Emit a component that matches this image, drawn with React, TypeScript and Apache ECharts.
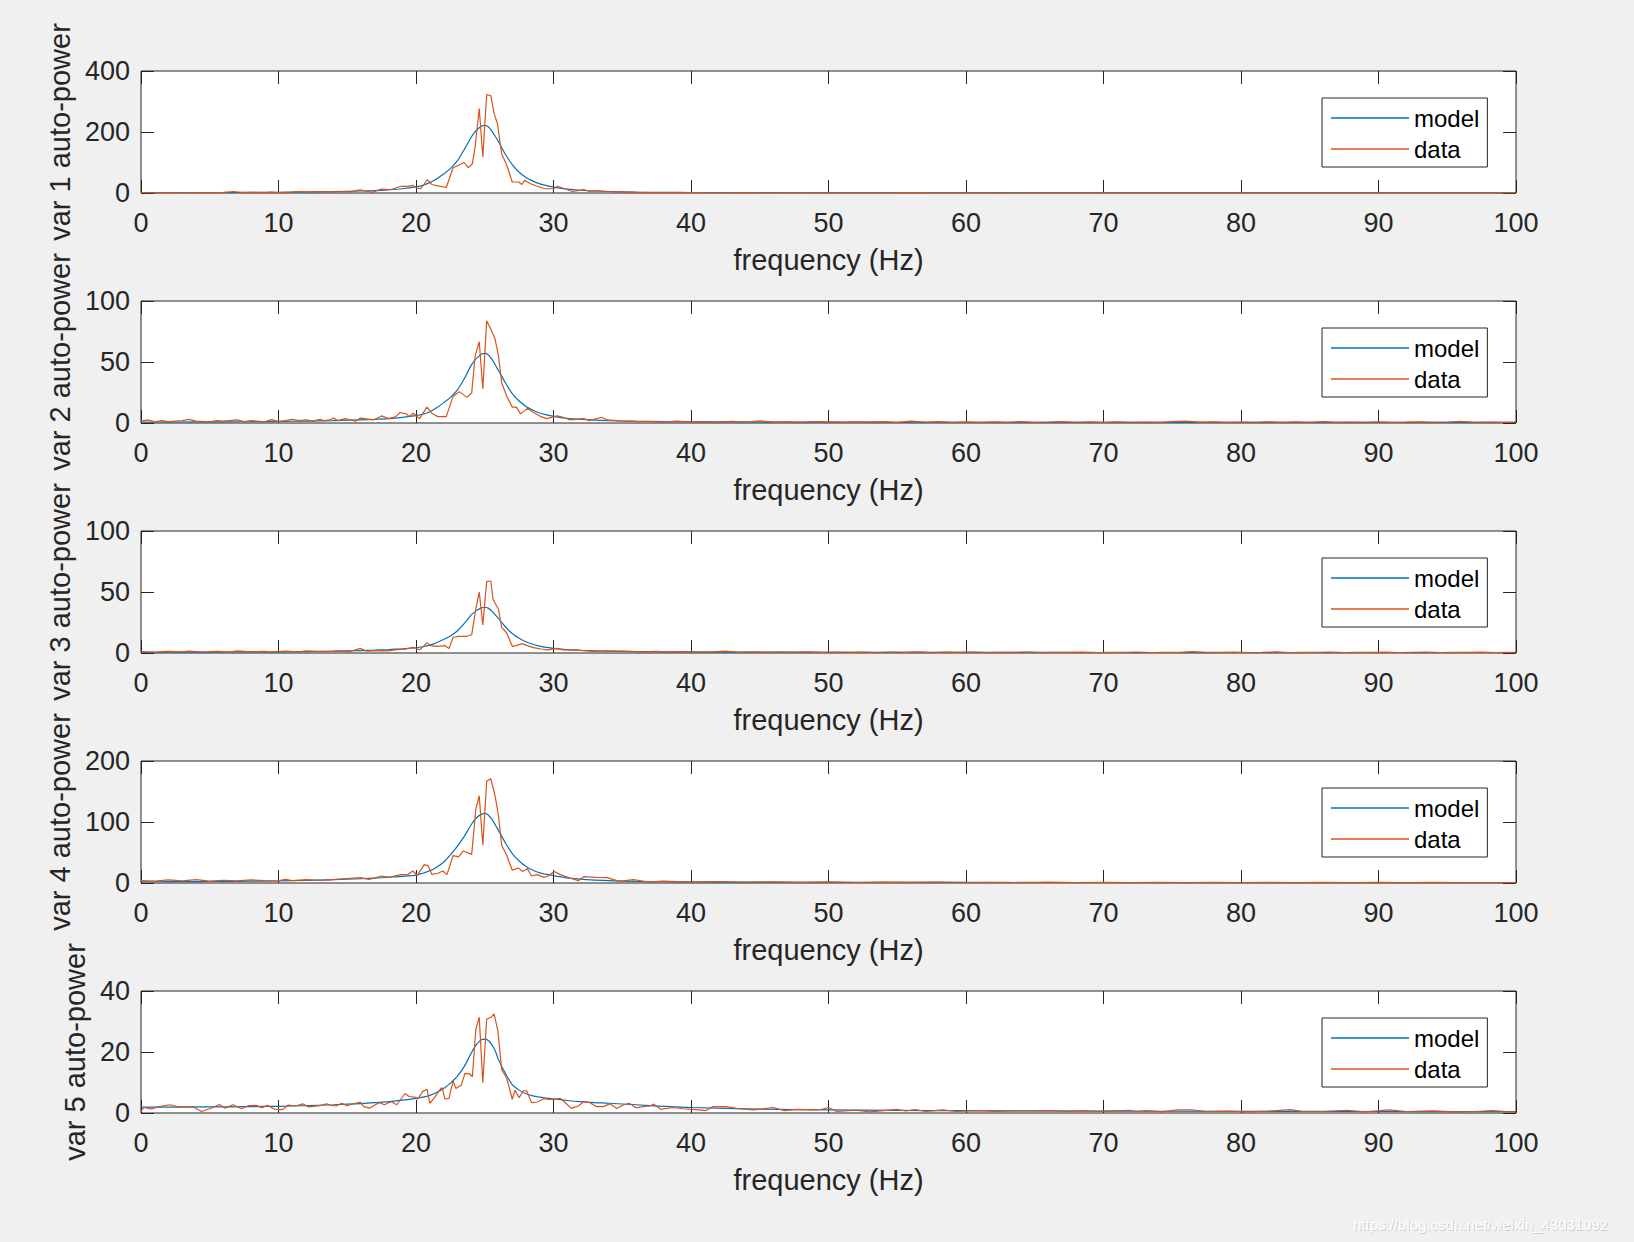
import React, { useEffect, useRef } from 'react';
import * as echarts from 'echarts';

// ---------- data ----------
const modelFreq = [0, 2, 4, 6, 8, 10, 12, 14, 16, 17, 18, 19, 20, 20.5, 21, 21.5, 22, 22.5, 23, 23.5, 24, 24.25, 24.5, 24.75, 25, 25.25, 25.5, 25.75, 26, 26.5, 27, 27.5, 28, 28.5, 29, 29.5, 30, 31, 32, 33, 34, 36, 38, 40, 45, 50, 55, 60, 70, 80, 90, 100];

const model1 = [0.8, 1.0, 1.2, 1.5, 1.9, 2.4, 3.2, 4.5, 6.5, 8, 10.5, 14, 20, 25, 34, 46, 62, 80, 105, 142, 182, 198, 210, 219, 222, 217, 204, 187, 168, 127, 93, 68, 51, 39, 30, 24, 19.5, 13, 9, 6.5, 5, 3, 2.2, 1.7, 1, 0.7, 0.5, 0.4, 0.3, 0.3, 0.2, 0.2];
const model2 = [0.8, 0.8, 0.9, 1.0, 1.1, 1.3, 1.6, 2.0, 2.6, 3.0, 3.6, 4.6, 6.0, 7.2, 9.2, 12.5, 16.5, 21, 27, 36, 47, 51, 54, 56.3, 57, 56, 52.5, 48, 43, 33, 24, 18, 13.5, 10.5, 8.2, 6.6, 5.4, 3.8, 2.9, 2.3, 1.9, 1.4, 1.2, 1.0, 0.8, 0.7, 0.6, 0.6, 0.5, 0.5, 0.5, 0.5];
const model3 = [0.6, 0.6, 0.7, 0.8, 0.9, 1.0, 1.2, 1.5, 2.0, 2.3, 2.8, 3.5, 4.3, 5.1, 6.4, 8.4, 11, 14, 18, 24, 31, 33.5, 35.5, 37, 37.5, 36.8, 34.5, 31.5, 28.3, 21.5, 16, 12, 9.2, 7.2, 5.7, 4.6, 3.8, 2.8, 2.2, 1.8, 1.5, 1.2, 1.0, 0.9, 0.7, 0.6, 0.5, 0.5, 0.4, 0.4, 0.4, 0.4];
const model4 = [2, 2.1, 2.3, 2.6, 3.0, 3.5, 4.3, 5.5, 7.0, 8.0, 9.5, 11.0, 13, 16, 20, 26, 34, 46, 60, 76, 95, 103, 109, 112.5, 114, 111.5, 105, 96, 86, 66, 48, 36, 27, 21, 16.5, 14, 12, 8.5, 6.2, 4.8, 3.8, 2.7, 2.1, 1.8, 1.3, 1.1, 1.0, 0.9, 0.8, 0.7, 0.7, 0.7];
const model5 = [1.9, 1.9, 2.0, 2.0, 2.1, 2.2, 2.4, 2.7, 3.1, 3.4, 3.7, 4.2, 4.8, 5.2, 5.8, 6.7, 8.0, 9.8, 12.0, 15.2, 19.5, 21.5, 23, 24, 24.2, 23.8, 22.5, 20.5, 17.5, 13, 9.3, 7.5, 6.3, 5.6, 5.2, 4.9, 4.6, 4.1, 3.7, 3.4, 3.2, 2.7, 2.2, 1.8, 1.3, 1.0, 0.85, 0.75, 0.6, 0.55, 0.5, 0.45];

const data1: [number, number][] = [
  [0, 1], [1, 0.5], [2, 1], [3, 0.8], [4, 1.5], [5, 1], [6, 2], [6.7, 5], [7.3, 2], [8, 2.5], [9, 1.5], [9.4, 3], [10, 1.5], [11, 3], [11.3, 5], [12, 4], [13, 5],
  [13.8, 3], [14.5, 5], [15.2, 4], [15.9, 10], [16.4, 6], [16.8, 2], [17.5, 13], [18, 11], [18.3, 13], [18.9, 22], [19.4, 22], [19.8, 25], [20.05, 16], [20.35, 14],
  [20.83, 44], [21.15, 28], [21.5, 24], [22.2, 18], [22.7, 83], [23.1, 91], [23.5, 100], [23.8, 83], [24.1, 96], [24.3, 151], [24.6, 277], [24.86, 118],
  [25.14, 323], [25.44, 319], [25.68, 261], [25.92, 228], [26.23, 129], [26.6, 91], [27.0, 36], [27.45, 36], [27.7, 28], [27.9, 42], [28.3, 31], [28.8, 22],
  [29.4, 14], [30, 14], [30.3, 22], [30.8, 14], [31.4, 5], [32.2, 11], [32.65, 5], [33.1, 8], [33.9, 5], [35.1, 3], [36, 2], [37, 1],
  [38, 1.5], [40, 1], [42, 0.8], [44, 1.2], [46, 0.6], [48, 0.9], [50, 0.5], [52, 0.8], [54, 0.6], [56, 1], [58, 0.5], [60, 0.7], [62, 0.4], [64, 0.8],
  [66, 0.5], [68, 0.6], [70, 0.4], [72, 0.7], [74, 0.5], [76, 0.8], [78, 0.4], [80, 0.6], [82, 0.5], [84, 0.7], [86, 0.4], [88, 0.6], [90, 0.5], [92, 0.4],
  [94, 0.6], [96, 0.5], [98, 0.4], [100, 0.5]
];

const data2: [number, number][] = [
  [0, 1.5], [0.5, 2.5], [1, 1], [1.5, 2], [2, 1.2], [3, 2], [3.5, 3], [4, 1.5], [5, 1], [5.5, 2], [6, 1.5], [7, 2.5], [7.5, 1.2], [8, 2], [9, 1], [9.5, 2.8],
  [10, 1.2], [10.5, 2], [11, 3], [11.5, 2], [12, 2.5], [12.5, 1.5], [13, 3], [13.3, 2],
  [13.76, 2.5], [14.0, 4], [14.3, 2], [14.85, 3.6], [15.6, 1.4], [15.95, 4], [16.9, 2.5], [17.5, 5.8], [18, 3.6], [18.5, 5], [18.85, 8.6], [19.3, 7.5],
  [19.5, 5.2], [19.8, 8], [20.25, 3.6], [20.8, 13], [21.15, 8], [21.6, 5.2], [22.2, 5.2], [22.7, 22], [23.15, 25.7], [23.7, 21], [24.05, 24.6], [24.3, 55],
  [24.6, 66.6], [24.86, 28], [25.14, 83.7], [25.44, 77], [25.75, 68.8], [26, 55], [26.23, 33], [26.6, 22], [27, 13], [27.3, 13], [27.6, 7.5], [28.1, 12],
  [28.55, 8.6], [29.1, 5.2], [29.5, 3.6], [30.25, 5.8], [30.7, 4.7], [31.2, 2.5], [32.2, 3.6], [32.6, 2], [33.5, 4.7], [33.9, 2.5], [34.8, 1.7], [36, 1.4],
  [37, 1.2], [38, 0.8], [39, 1.5], [40, 0.7], [41, 1.2], [42, 0.6], [43, 1.4], [44, 0.8], [45, 1.8], [46, 0.7], [47, 1], [48, 0.6], [49, 1.2], [50, 0.9],
  [51, 0.5], [52, 1], [53, 0.7], [54, 1.1], [55, 0.5], [56, 1.6], [57, 0.8], [58, 1.2], [59, 0.6], [60, 1], [61, 0.5], [62, 0.9], [63, 0.6], [64, 1.1],
  [65, 0.5], [66, 0.8], [67, 1.2], [68, 0.6], [69, 0.9], [70, 0.5], [71, 1], [72, 0.6], [73, 0.8], [74, 0.5], [75, 1.1], [76, 1.5], [77, 0.7], [78, 0.9],
  [79, 0.5], [80, 0.8], [81, 0.6], [82, 1], [83, 0.5], [84, 0.9], [85, 0.6], [86, 1.2], [87, 0.5], [88, 0.8], [89, 0.6], [90, 0.9], [91, 0.5], [92, 0.7],
  [93, 1], [94, 0.6], [95, 0.8], [96, 1.3], [97, 0.6], [98, 0.8], [99, 0.5], [100, 0.7]
];

const data3: [number, number][] = [
  [0, 1.2], [1, 0.8], [2, 1.4], [3, 0.9], [3.5, 1.6], [4.5, 0.8], [5.5, 1.3], [6.5, 0.9], [7, 1.7], [8, 1], [9, 1.4], [9.5, 0.8], [10.5, 1.5], [11.5, 1],
  [12, 1.8], [13, 1.2],
  [13.76, 1.4], [14.5, 1.6], [15.2, 1.2], [15.95, 3.8], [16.4, 1.5], [17.4, 2], [18, 1.8], [18.6, 2.7], [19.2, 3.2], [19.8, 4.6], [20.3, 2.7], [20.8, 8.5],
  [21.05, 6], [21.5, 5.5], [22.1, 6], [22.4, 3.6], [22.7, 12.9], [23.1, 13.7], [23.7, 13.7], [24.05, 15], [24.35, 36], [24.6, 50], [24.86, 23], [25.14, 58.5],
  [25.44, 59], [25.6, 44], [26, 35.6], [26.23, 21], [26.6, 16.4], [27, 5.5], [27.3, 6], [27.7, 7.7], [28.1, 6], [28.55, 4.4], [29.1, 3.3], [29.6, 2.5],
  [30.25, 3.8], [30.7, 2.5], [31.2, 2.7], [32.2, 2], [33, 1.4], [34, 1.8], [35.5, 1.4], [36.5, 1],
  [37.5, 1.3], [38.5, 0.7], [39.5, 1.1], [40.5, 0.6], [41.5, 0.9], [42.5, 1.5], [43.5, 0.6], [44.5, 0.9], [45.5, 0.5], [46.5, 0.8], [47.5, 0.6], [48.5, 1],
  [49.5, 0.5], [50.5, 0.8], [51.5, 0.5], [52.5, 0.7], [53.5, 0.4], [54.5, 0.8], [55.5, 0.5], [56.5, 0.9], [57.5, 0.4], [58.5, 0.7], [59.5, 0.5], [60.5, 0.8],
  [61.5, 0.4], [62.5, 0.6], [63.5, 0.5], [64.5, 0.8], [65.5, 0.4], [66.5, 0.6], [67.5, 0.5], [68.5, 0.7], [69.5, 0.4], [70.5, 0.6], [71.5, 0.5], [72.5, 0.8],
  [73.5, 0.4], [74.5, 0.6], [75.5, 0.5], [76.5, 1.1], [77.5, 0.6], [78.5, 0.5], [79.5, 0.7], [80.5, 0.4], [81.5, 0.6], [82.5, 0.9], [83.5, 0.4], [84.5, 0.6],
  [85.5, 0.5], [86.5, 0.8], [87.5, 0.4], [88.5, 0.6], [89.5, 0.5], [90.5, 0.7], [91.5, 0.4], [92.5, 0.6], [93.5, 0.8], [94.5, 0.4], [95.5, 0.6], [96.5, 0.5],
  [97.5, 0.7], [98.5, 0.4], [99.5, 0.6], [100, 0.5]
];

const data4: [number, number][] = [
  [0, 4], [1, 3], [2, 5], [3, 3.5], [4, 5.5], [5, 3], [6, 4.5], [7, 3.5], [8, 5], [9, 4], [10, 3.5], [10.5, 6], [11, 4], [12, 5.5], [13, 4.5],
  [13.76, 5], [14.7, 7], [15.95, 8.8], [16.6, 6], [17.5, 11.5], [18, 9.3], [18.9, 13.7], [19.4, 13.7], [19.76, 19.7], [20.1, 12.6], [20.6, 30], [20.9, 28],
  [21.15, 14], [21.6, 16], [21.95, 19.7], [22.25, 13.7], [22.7, 45], [23.1, 42.7], [23.45, 52.5], [24.05, 47], [24.35, 121], [24.6, 143], [24.86, 62],
  [25.14, 167], [25.44, 171], [25.75, 143], [26, 110], [26.23, 62], [26.6, 45], [27.0, 21], [27.45, 24.6], [27.75, 19], [28.1, 23.5], [28.4, 11.5],
  [28.8, 13.7], [29.3, 9.3], [29.6, 11.5], [30.05, 19], [30.5, 13.7], [31.2, 8.2], [31.8, 3.8], [32.2, 10.4], [33.1, 9.3], [33.9, 8.8], [34.8, 2.7],
  [35.8, 5.5], [36.5, 3.3], [37, 2],
  [38, 3], [40, 1.5], [42, 2.5], [44, 1.2], [46, 2], [48, 1], [50, 1.8], [52, 0.8], [54, 1.5], [56, 1], [58, 1.6], [60, 0.8], [62, 1.2], [64, 0.7],
  [66, 1.3], [68, 0.8], [70, 1.1], [72, 0.6], [74, 1.2], [76, 0.8], [78, 1], [80, 0.6], [82, 1.1], [84, 0.7], [86, 0.9], [88, 0.6], [90, 1], [92, 0.7],
  [94, 0.9], [96, 0.6], [98, 0.8], [100, 0.7]
];

const data5: [number, number][] = [
  [0, 0.5], [0.2, 1.8], [0.8, 1.3], [1.2, 2], [2.1, 2.7], [2.7, 2], [3.8, 2], [4.4, 0.5], [5, 1.4], [5.7, 2.8], [6.1, 1.6], [6.7, 2.7], [7.3, 1.4],
  [7.8, 2.4], [8.4, 2.5], [8.8, 1.7], [9.2, 2.5], [9.7, 1.3], [10.3, 1.1], [10.7, 2.6], [11.25, 2.3], [11.75, 3.0], [12.2, 2], [13, 2.4], [13.5, 3.0],
  [13.76, 2.6], [14.2, 2.3], [14.6, 3.2], [14.97, 2.4], [15.6, 3.2], [15.95, 3.6], [16.2, 2.1], [16.66, 1.6], [17, 2.6], [17.34, 3.4], [17.7, 2.7],
  [18.2, 3.7], [18.6, 2.7], [19.2, 6.4], [19.5, 5.4], [20, 5.1], [20.1, 4.5], [20.5, 7.1], [20.8, 7.8], [21, 3.2], [21.3, 4.8], [21.8, 8.0], [21.9, 8.3],
  [22.1, 4.6], [22.4, 4.8], [22.7, 10.6], [22.9, 8.0], [23.3, 9.2], [23.56, 13], [23.9, 12.8], [24.1, 11.9], [24.35, 27.4], [24.6, 31.4], [24.86, 9.9],
  [25.14, 30.8], [25.44, 31.3], [25.68, 32.5], [25.95, 27], [26.23, 14.3], [26.6, 11.4], [27, 4.5], [27.2, 7.5], [27.5, 5.0], [27.8, 7.3], [28.05, 7.3],
  [28.4, 3.4], [28.8, 3.6], [29.3, 4.7], [29.6, 4.5], [30.05, 4.5], [30.5, 4.8], [30.8, 3.6], [31.3, 1.5], [31.8, 2.3], [32.2, 3.7], [32.65, 3.4],
  [33.1, 2.1], [33.6, 2.1], [34.1, 3.0], [34.6, 1.5], [35.1, 2.7], [35.5, 3.2], [36, 1.7], [36.5, 2.1], [37, 2.3],
  [37.3, 2.9], [37.8, 1.2], [38.7, 1.8], [39.4, 1.4], [40.2, 1.2], [41.1, 0.8], [41.6, 2.1], [42.6, 2.1], [43.5, 1.4], [44.5, 1.0], [46, 1.8], [46.8, 0.8],
  [47.7, 1.2], [48.9, 1.0], [49.5, 1.2], [50, 1.8], [50.6, 0.5], [52, 0.9], [53, 0.4], [55, 1.2], [55.6, 0.65], [56.3, 1.1], [57.1, 0.5], [58.3, 1.0],
  [59.3, 0.5], [60.8, 0.76], [62.2, 0.55], [63.4, 0.65], [66.3, 0.76], [67.3, 0.43], [68.5, 0.76],
  [69.5, 0.5], [70.5, 0.7], [71.9, 0.9], [72.5, 0.5], [73.1, 0.8], [74.2, 0.4], [75.4, 1.0], [76.4, 1.0], [77.5, 0.5], [79, 0.6], [80.5, 0.4], [82, 0.6],
  [83.6, 1.1], [84.5, 0.5], [86, 0.5], [87.7, 0.9], [89, 0.4], [90.8, 1.0], [92, 0.5], [94, 0.7], [95.5, 0.4], [97, 0.5], [98.3, 0.8], [99.3, 0.5], [100, 0.3]
];

const models = [model1, model2, model3, model4, model5];
const datas = [data1, data2, data3, data4, data5];
const yMaxes = [400, 100, 100, 200, 40];
const yIntervals = [200, 50, 50, 100, 20];
const yNames = ['var 1 auto-power', 'var 2 auto-power', 'var 3 auto-power', 'var 4 auto-power', 'var 5 auto-power'];
const xName = 'frequency (Hz)';
const seriesNames = ['model', 'data'];
const watermark = 'https://blog.csdn.net/weixin_43031092';

// ---------- layout / style ----------
const FONT = '"Liberation Sans", Arial, Helvetica, sans-serif';
const AX = '#262626';
const C_MODEL = '#0072BD';
const C_DATA = '#D95319';
const LEFT = 141;
const WIDTH = 1375;
const TOP0 = 71;
const STEP = 230;
const HEIGHT = 122;

function buildOption() {
  const grid: any[] = [];
  const xAxis: any[] = [];
  const yAxis: any[] = [];
  const series: any[] = [];
  const legend: any[] = [];
  for (let k = 0; k < 5; k++) {
    const top = TOP0 + STEP * k;
    grid.push({ left: LEFT, top, width: WIDTH, height: HEIGHT, show: true, backgroundColor: '#ffffff', borderColor: AX, borderWidth: 1, containLabel: false });
    const tick = { show: true, inside: true, length: 13, lineStyle: { color: AX, width: 1 } };
    const hiddenLine = { show: false, onZero: false };
    xAxis.push({
      gridIndex: k, type: 'value', position: 'bottom', min: 0, max: 100, interval: 10,
      axisLine: hiddenLine, axisTick: tick, splitLine: { show: false },
      axisLabel: { fontSize: 27, color: AX, fontFamily: FONT, margin: 16 },
      name: xName, nameLocation: 'middle', nameGap: 52,
      nameTextStyle: { fontSize: 29, color: AX, fontFamily: FONT }
    });
    xAxis.push({
      gridIndex: k, type: 'value', position: 'top', min: 0, max: 100, interval: 10,
      axisLine: hiddenLine, axisTick: tick, splitLine: { show: false }, axisLabel: { show: false }
    });
    yAxis.push({
      gridIndex: k, type: 'value', position: 'left', min: 0, max: yMaxes[k], interval: yIntervals[k],
      axisLine: hiddenLine, axisTick: tick, splitLine: { show: false },
      axisLabel: { fontSize: 27, color: AX, fontFamily: FONT, margin: 11 },
      name: yNames[k], nameLocation: 'middle', nameGap: k === 4 ? 51 : 67,
      nameTextStyle: { fontSize: 29, color: AX, fontFamily: FONT }
    });
    yAxis.push({
      gridIndex: k, type: 'value', position: 'right', min: 0, max: yMaxes[k], interval: yIntervals[k],
      axisLine: hiddenLine, axisTick: tick, splitLine: { show: false }, axisLabel: { show: false }
    });
    series.push({
      name: seriesNames[0], type: 'line', xAxisIndex: 2 * k, yAxisIndex: 2 * k,
      data: modelFreq.map((f, i) => [f, models[k][i]]),
      showSymbol: false, symbol: 'none', smooth: 0.3, lineStyle: { color: C_MODEL, width: 1.2 }, itemStyle: { color: C_MODEL }
    });
    series.push({
      name: seriesNames[1], type: 'line', xAxisIndex: 2 * k, yAxisIndex: 2 * k,
      data: datas[k],
      showSymbol: false, symbol: 'none', lineStyle: { color: C_DATA, width: 1.2 }, itemStyle: { color: C_DATA }
    });
    legend.push({
      data: seriesNames, orient: 'vertical', left: 1322, top: 98 + STEP * k,
      icon: 'rect', itemWidth: 78, itemHeight: 1.5, itemGap: 7,
      padding: [8, 8, 6, 9], borderColor: AX, borderWidth: 1, backgroundColor: '#ffffff', borderRadius: 0,
      textStyle: { fontSize: 24, color: '#000000', fontFamily: FONT, padding: [0, 0, 0, 0] },
      selectedMode: false
    });
  }
  return {
    animation: false,
    backgroundColor: '#f0f0f0',
    grid, xAxis, yAxis, series, legend,
    graphic: [{
      type: 'text', x: 1353, y: 1224,
      style: {
        text: watermark, fontSize: 15, fontFamily: FONT, fill: '#fdfdfd', verticalAlign: 'middle', align: 'left',
        textShadowColor: 'rgba(0,0,0,0.15)', textShadowBlur: 1, textShadowOffsetX: 1, textShadowOffsetY: 1
      }
    }]
  };
}

export default function App() {
  const ref = useRef<HTMLDivElement>(null);
  useEffect(() => {
    if (!ref.current) return;
    const chart = echarts.init(ref.current, undefined, { renderer: 'svg' });
    chart.setOption(buildOption() as any);
    return () => chart.dispose();
  }, []);
  return (
    <div style={{ position: 'fixed', left: 0, top: 0, width: 1634, height: 1242, background: '#f0f0f0' }}>
      <div ref={ref} style={{ width: 1634, height: 1242 }} />
    </div>
  );
}
